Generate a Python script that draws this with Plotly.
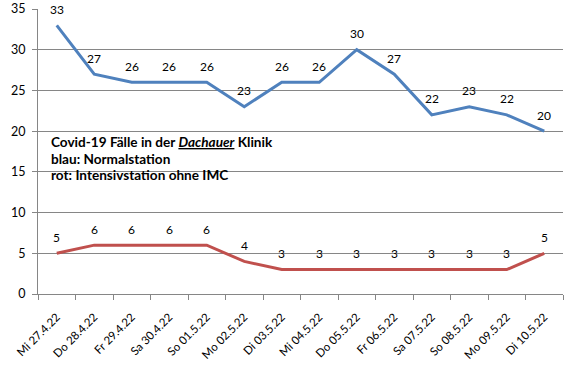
import plotly.graph_objects as go

dates = ["Mi 27.4.22", "Do 28.4.22", "Fr 29.4.22", "Sa 30.4.22", "So 01.5.22",
         "Mo 02.5.22", "Di 03.5.22", "Mi 04.5.22", "Do 05.5.22", "Fr 06.5.22",
         "Sa 07.5.22", "So 08.5.22", "Mo 09.5.22", "Di 10.5.22"]
normal = [33, 27, 26, 26, 26, 23, 26, 26, 30, 27, 22, 23, 22, 20]
intensive = [5, 6, 6, 6, 6, 4, 3, 3, 3, 3, 3, 3, 3, 5]
y_ticks = [0, 5, 10, 15, 20, 25, 30, 35]
note_lines = ["<b>Covid-19 Fälle in der <i><u>Dachauer</u></i> Klinik</b>",
              "<b>blau: Normalstation</b>",
              "<b>rot: Intensivstation ohne IMC</b>"]

BLUE = "#4F81BD"
RED = "#C0504D"
FONT = "Lato"

fig = go.Figure()
fig.add_trace(go.Scatter(x=dates, y=normal, mode="lines",
                         line=dict(color=BLUE, width=3), hoverinfo="skip"))
fig.add_trace(go.Scatter(x=dates, y=intensive, mode="lines",
                         line=dict(color=RED, width=3), hoverinfo="skip"))

for series in (normal, intensive):
    for d, v in zip(dates, series):
        fig.add_annotation(x=d, y=v, text=str(v), showarrow=False,
                           yshift=16, font=dict(family=FONT, size=12, color="#000000"))

for i, line in enumerate(note_lines):
    fig.add_annotation(
        xref="paper", yref="y", x=0.02, y=20, xanchor="left", yanchor="middle",
        yshift=-10.7 - 16.7 * i, align="left", showarrow=False, text=line,
        font=dict(family=FONT, size=13.6, color="#000000"))

fig.update_layout(
    width=571, height=374,
    margin=dict(l=37.5, r=7.5, t=9, b=80, autoexpand=False),
    paper_bgcolor="white", plot_bgcolor="white",
    showlegend=False,
    font=dict(family=FONT, size=12, color="#000000"),
)
fig.update_xaxes(
    type="category", showgrid=False, showline=True, linecolor="#868686",
    linewidth=1, ticks="outside", tickson="boundaries", ticklen=5,
    tickcolor="#868686", tickangle=-45, tickfont=dict(family=FONT, size=11.5),
    range=[-0.5, len(dates) - 0.5], fixedrange=True, automargin=False,
    ticklabelstandoff=11,
)
fig.update_yaxes(
    range=[0, 35], tickvals=y_ticks, showgrid=True, gridcolor="#868686",
    gridwidth=1, showline=True, linecolor="#868686", linewidth=1,
    ticks="outside", ticklen=5, tickcolor="#868686", zeroline=False,
    tickfont=dict(family=FONT, size=12.5), fixedrange=True, automargin=False,
    ticklabelstandoff=4,
)

fig.write_html("out.html", config={"displayModeBar": False},
               post_script="document.body.style.margin='0';")
